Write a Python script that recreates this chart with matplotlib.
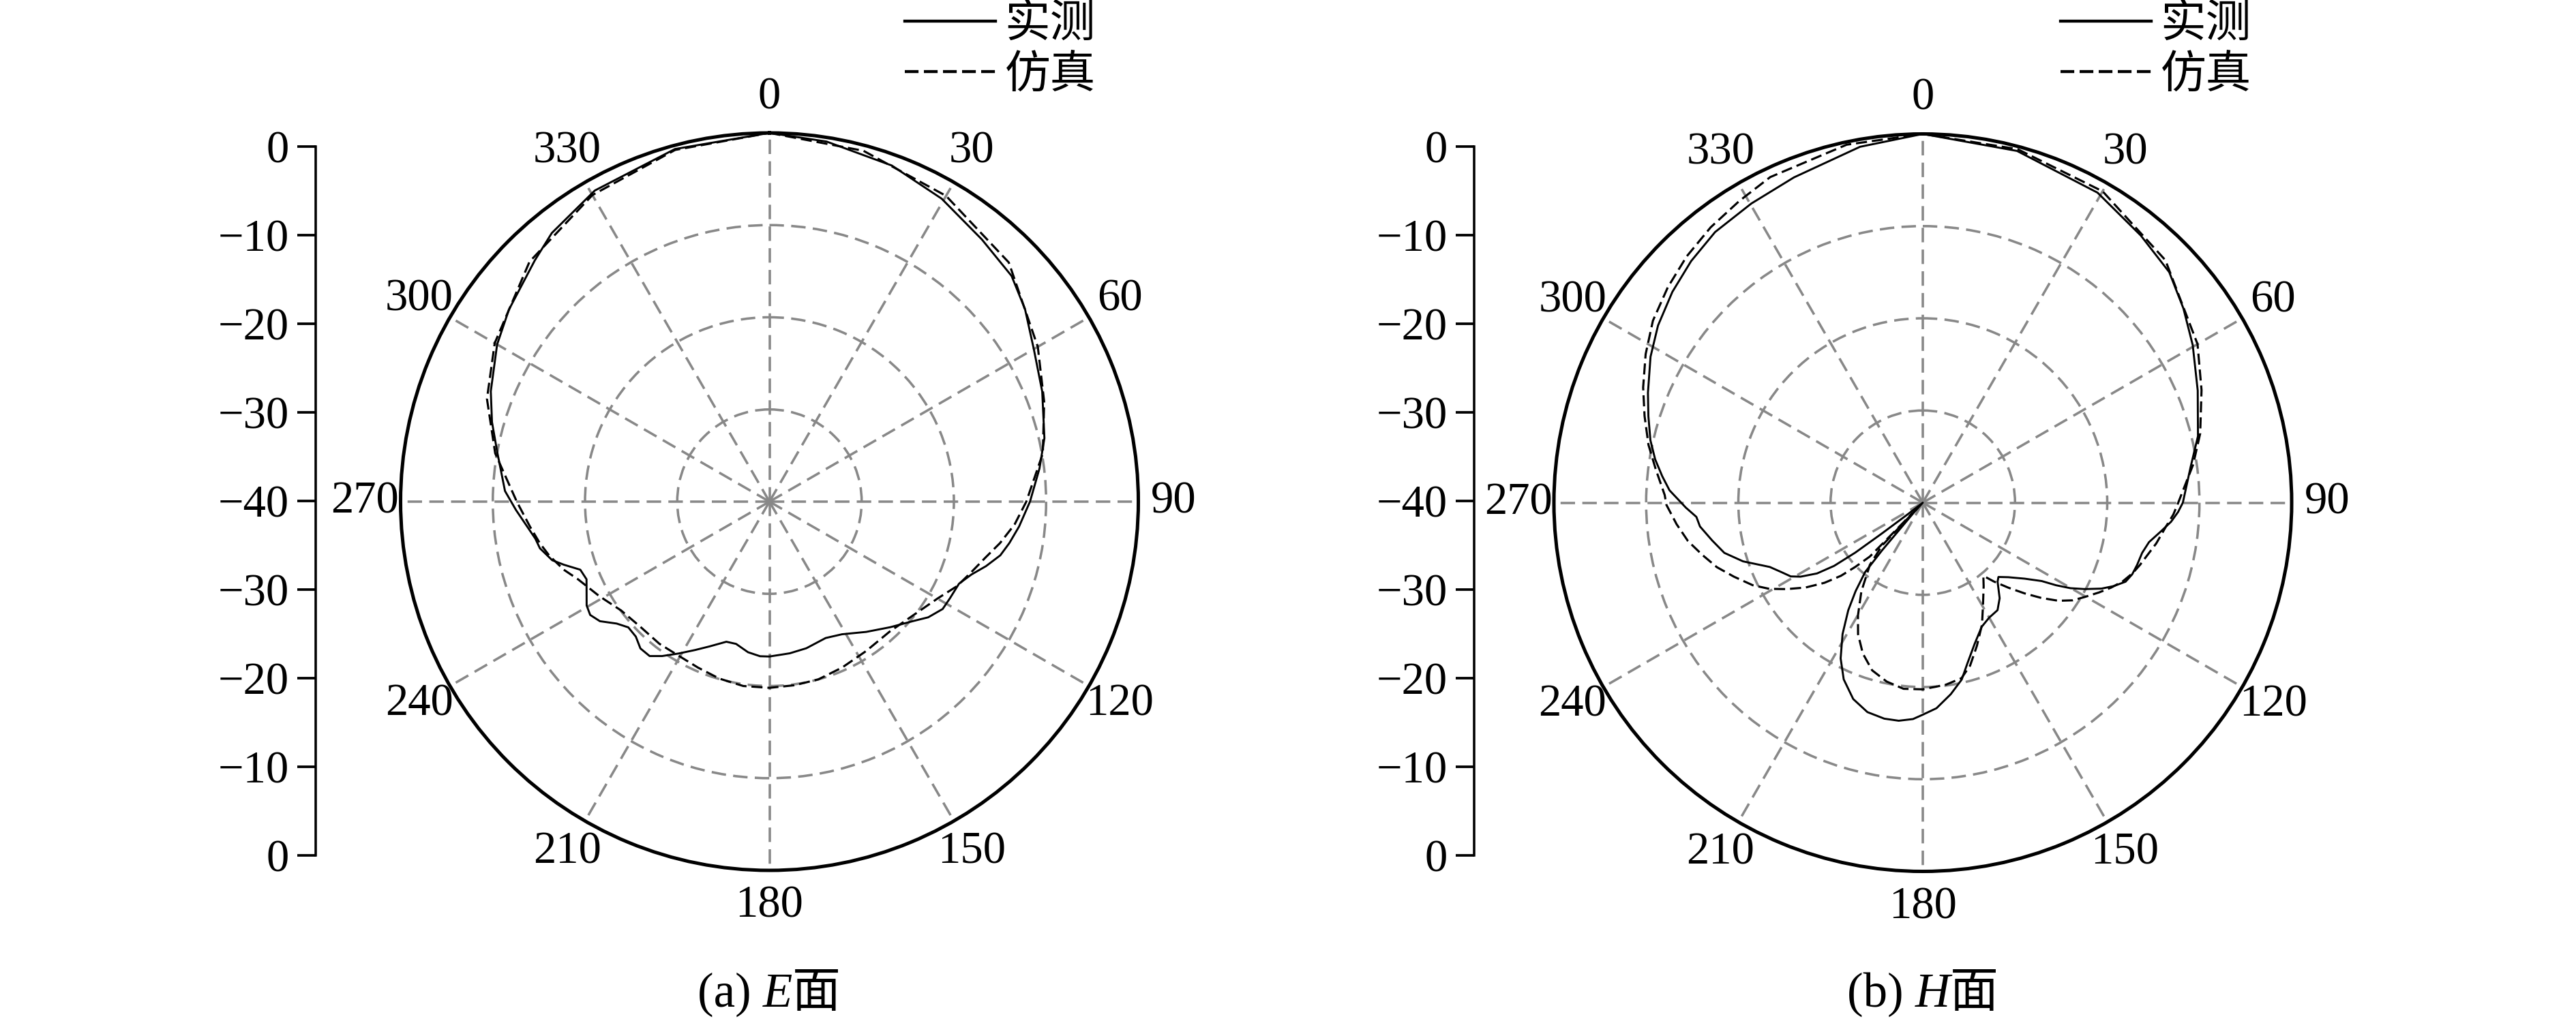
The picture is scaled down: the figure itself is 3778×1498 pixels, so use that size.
import matplotlib
matplotlib.use("Agg")
import matplotlib.pyplot as plt
import numpy as np
from matplotlib.lines import Line2D

plt.rcParams["font.family"] = ["Liberation Serif", "Noto Sans CJK SC"]

# E面 实测 (角度 / dB)
e_meas_ang = [0, 9, 20, 29.6, 39, 47, 53, 60, 68, 77, 83, 90, 95.7, 99.8, 103.1,
              106.6, 109.8, 113.4, 118.2, 121.8, 126.1, 129.6, 136.1, 143.4, 151.3,
              157.6, 165.9, 172.4, 180, 183.5, 188.1, 193.2, 197.1, 202.5, 206.6,
              210.9, 214.8, 217.8, 221.3, 224.7, 228.3, 231.4, 234.8, 237.7, 240.4,
              247, 250.2, 252.9, 254.9, 258.5, 261, 268.1, 272.3, 280.3, 286, 291.6,
              300, 306.4, 315.8, 321, 330.7, 345, 360]
e_meas_db = [0, -0.45, -1.2, -2.2, -3.4, -4.1, -5.3, -6.9, -8.1, -9.4, -10.5, -11.75,
             -12.8, -13.6, -14.3, -15.5, -16.7, -17.6, -17.8, -17.9, -18.7, -19.7,
             -21.1, -22.4, -23.6, -24.0, -23.6, -23.4, -23.2, -23.2, -23.5, -24.15,
             -24.1, -23.0, -22.0, -20.8, -19.6, -18.8, -18.8, -19.4, -19.5, -18.8,
             -17.5, -17.0, -17.2, -18.45, -18.2, -16.7, -15.6, -14.6, -14.3, -12.5,
             -11.3, -10.0, -8.7, -7.5, -5.9, -4.9, -3.5, -2.5, -1.3, -0.4, 0]

# E面 仿真
e_sim_ang = [0, 15, 30, 45, 60, 70, 80, 90, 95.3, 100.2, 104.5, 109.2, 114.3, 119.9,
             128.1, 137.2, 147.1, 156.4, 164.7, 172.3, 180, 188.1, 195.8, 203.3,
             210.5, 217.7, 225.8, 233.7, 240.9, 247.9, 251.7, 256.3, 259.7, 264, 270,
             280, 290, 300, 315, 330, 345, 360]
e_sim_db = [0, -0.6, -1.7, -3.3, -6.4, -8.3, -9.9, -12.15, -13.3, -14.6, -15.8, -16.8,
            -17.7, -18.95, -20.1, -20.8, -20.7, -20.35, -20.0, -19.9, -19.8, -19.8,
            -20.05, -20.4, -20.6, -20.5, -20.5, -20.05, -18.9, -17.6, -16.5, -15.4,
            -14.7, -13.9, -12.6, -9.8, -7.4, -5.6, -3.2, -1.6, -0.5, 0]

# H面 实测
h_meas_ang = [0, 15, 29.4, 39.2, 46.9, 53.3, 59.7, 67.8, 76.4, 82.4, 90, 92.1, 94.4,
              96.9, 99.9, 102.9, 106.2, 108.9, 111.3, 113.6, 115.7, 118.1, 120.1,
              121.8, 123.4, 126.7, 131.1, 134.5, 136.6, 138.6, 141.2, 145.2, 150,
              154.6, 159.8, 164.4, 167.6, 171.7, 176.2, 180, 182.6, 186.3, 190.1,
              194.8, 199.5, 204.1, 207.8, 211.4, 214.7, 217.2, 219.7, 220.5, 222,
              227, 232.3, 233, 233.5, 234.5, 236.2, 238.8, 240.8, 243.9, 247.2,
              251.9, 255.8, 259.8, 263.9, 266.4, 268.8, 272.8, 275.8, 279.2, 282.9,
              287.5, 291.8, 298.2, 303.8, 310.1, 316.2, 322.5, 330.2, 338.4, 350, 360]
h_meas_db = [0, -0.5, -1.4, -2.6, -3.4, -4.75, -6.1, -7.8, -9.3, -10.7, -11.8, -12.3,
             -13.0, -14.0, -15.1, -15.6, -15.8, -16.0, -16.4, -17.4, -18.5, -20.1,
             -21.5, -23.0, -24.55, -26.2, -27.7, -28.5, -28.2, -27.6, -26.7, -25.8,
             -25.6, -25.1, -23.7, -21.95, -20.35, -19.0, -17.65, -17.0, -16.5, -16.2,
             -16.2, -16.5, -17.4, -19.0, -20.9, -23.3, -25.8, -27.95, -30.2, -33.2,
             -38.5, -40, -38, -34.4, -30.9, -28.2, -26.2, -24.5, -23.6, -22.9, -22.0,
             -19.5, -17.8, -16.8, -15.7, -15.4, -14.3, -12.5, -11.6, -10.6, -9.7,
             -8.8, -7.9, -6.5, -5.45, -4.5, -3.7, -3.0, -2.6, -2.05, -0.8, 0]

# H面 仿真
h_sim_ang = [0, 15, 30, 45, 60, 68, 76, 82, 90, 92.7, 95.6, 99.9, 103.2, 106, 108.6,
             111.5, 114.3, 117, 120.3, 123.1, 125.9, 128.8, 131.7, 134.8, 138, 140.4,
             143.9, 149.6, 154.1, 159.3, 163.8, 167.6, 172.7, 180, 185.9, 191.4,
             196.8, 201.7, 206.2, 209.9, 214.7, 220.4, 223.5, 224, 224.5, 226.4,
             228.2, 230.8, 234.1, 237.6, 240.7, 244.1, 248.6, 252.6, 256.6, 260.7,
             265, 269.5, 271.7, 277.2, 281.9, 287.3, 292.4, 298.2, 304, 310.2, 316.2,
             322.4, 328.7, 334.9, 348, 360]
h_sim_db = [0, -0.3, -1.0, -2.8, -5.6, -7.4, -9.0, -10.4, -12.3, -12.8, -13.5, -14.3,
            -15.0, -15.5, -16.0, -16.7, -17.6, -18.55, -19.7, -20.6, -21.85, -23.5,
            -25.2, -26.9, -28.5, -29.7, -28.8, -27.1, -25.3, -23.4, -21.6, -20.5,
            -20.1, -19.75, -19.7, -20.2, -21.0, -22.4, -24.1, -25.9, -28.3, -31.15,
            -33.6, -39, -31.8, -29.9, -28.1, -26.25, -24.3, -22.5, -20.9, -19.5,
            -18.0, -16.6, -15.45, -14.2, -13.2, -12.2, -12.0, -10.8, -9.6, -8.4,
            -7.2, -5.9, -4.7, -3.8, -3.0, -2.3, -1.7, -1.0, -0.3, 0]

theta_ticks = list(range(0, 360, 30))
theta_labels = [str(a) for a in theta_ticks]
ring_levels = [-30, -20, -10]
scale_pos = [40, 30, 20, 10, 0, -10, -20, -30, -40]
scale_labels = ["0", "\u221210", "\u221220", "\u221230", "\u221240",
                "\u221230", "\u221220", "\u221210", "0"]
legend_labels = ["实测", "仿真"]

W, H = 3779, 1498
fig = plt.figure(figsize=(W / 300, H / 300), dpi=300)


def polar_panel(cx, cy, r, ang_m, db_m, ang_s, db_s):
    ax = fig.add_axes([(cx - r) / W, 1 - (cy + r) / H, 2 * r / W, 2 * r / H],
                      projection="polar")
    ax.set_theta_zero_location("N")
    ax.set_theta_direction(-1)
    ax.set_ylim(-40, 0)
    ax.set_rticks(ring_levels)
    ax.set_yticklabels([])
    ax.set_thetagrids(theta_ticks, theta_labels, fontsize=16)
    ax.tick_params(axis="x", length=0, pad=5.5)
    ax.grid(True, color="#888888", linestyle=(0, (6, 3)), linewidth=0.85)
    ax.spines["polar"].set_linewidth(1.2)
    ax.plot(np.deg2rad(ang_m), db_m, color="k", lw=0.7)
    ax.plot(np.deg2rad(ang_s), db_s, color="k", lw=0.75, dashes=(5.2, 2.3))
    return ax


def scale_bar(x_px, top=215, bot=1255):
    sax = fig.add_axes([x_px / W, 1 - bot / H, 0.0001, (bot - top) / H])
    sax.set_ylim(-40, 40)
    for s in ["top", "right", "bottom"]:
        sax.spines[s].set_visible(False)
    sax.spines["left"].set_linewidth(0.85)
    sax.set_xticks([])
    sax.set_yticks(scale_pos)
    sax.set_yticklabels(scale_labels, fontsize=16)
    sax.tick_params(axis="y", length=6.5, width=0.9, pad=3)
    sax.patch.set_visible(False)


def add_legend(ax, x_px):
    hs = [Line2D([], [], color="k", lw=1.05),
          Line2D([], [], color="k", lw=1.05, dashes=(4.6, 1.8))]
    ax.legend(hs, legend_labels, loc="upper left",
              bbox_to_anchor=(x_px / W, 1 - 6 / H),
              bbox_transform=fig.transFigure, frameon=False, fontsize=16,
              handlelength=2.0, handletextpad=0.2, labelspacing=0.2,
              borderpad=0, borderaxespad=0)


def caption(cx_px, base_px, pre, letter, post):
    y = 1 - base_px / H
    ts = [fig.text(0, y, pre, fontsize=17, va="baseline"),
          fig.text(0, y, letter, fontsize=17, va="baseline", style="italic"),
          fig.text(0, y, post, fontsize=17, va="baseline")]
    rend = fig.canvas.get_renderer()
    ws = [t.get_window_extent(rend).width for t in ts]
    x = cx_px - sum(ws) / 2
    for t, w in zip(ts, ws):
        t.set_x(x / W)
        x += w


ax1 = polar_panel(1128.5, 736, 541, e_meas_ang, e_meas_db, e_sim_ang, e_sim_db)
ax2 = polar_panel(2820, 737.5, 541, h_meas_ang, h_meas_db, h_sim_ang, h_sim_db)
scale_bar(463)
scale_bar(2162)
add_legend(ax1, 1327)
add_legend(ax2, 3022)
caption(1128, 1477, "(a) ", "E", "面")
caption(2820, 1477, "(b) ", "H", "面")

fig.savefig("out.png", dpi=300)
